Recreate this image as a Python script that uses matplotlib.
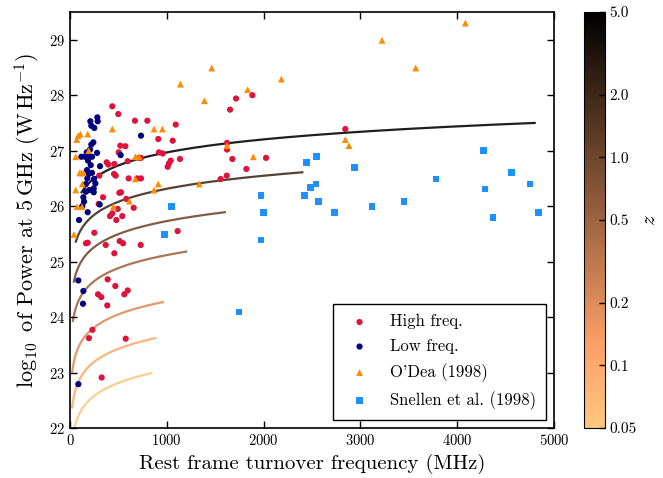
import matplotlib
matplotlib.use("Agg")
import matplotlib.pyplot as plt
import numpy as np
from matplotlib.colors import LogNorm

plt.rcParams['font.family'] = 'serif'
plt.rcParams['font.serif'] = ['cmr10']
plt.rcParams['mathtext.fontset'] = 'cm'
plt.rcParams['axes.formatter.use_mathtext'] = True

# --- data ---
high_x = [437, 499, 671, 799, 1092, 912, 1061, 520, 572, 503, 919, 957, 379, 396, 458,
          596, 713, 733, 1040, 1022, 1009, 1136, 303, 455, 472, 606, 692, 733, 510, 527,
          582, 341, 296, 658, 493, 437, 413, 540, 478, 251, 1112, 1622, 1622, 1677, 1619,
          1556, 1822, 2025, 1653, 1715, 1884, 2844, 165, 183, 369, 513, 548, 730, 458, 389,
          468, 596, 561, 289, 323, 385, 231, 196, 575, 327]
high_y = [27.80, 27.66, 27.54, 27.54, 27.47, 27.21, 27.18, 27.09, 27.08, 26.97, 26.97, 26.95, 26.79, 26.75, 26.76,
          26.81, 26.87, 26.87, 26.82, 26.77, 26.71, 26.85, 26.55, 26.58, 26.55, 26.50, 26.50, 26.50, 26.24, 26.25,
          26.13, 26.16, 26.04, 25.97, 25.95, 25.87, 25.82, 25.82, 25.75, 25.52, 25.55, 27.14, 27.02, 26.85, 26.55,
          26.49, 26.67, 26.87, 27.74, 27.94, 28.00, 27.39, 25.33, 25.34, 25.30, 25.37, 25.33, 25.30, 25.15, 24.68,
          24.56, 24.48, 24.41, 24.41, 24.36, 24.21, 23.77, 23.62, 23.61, 22.91]

low_x = [282, 286, 210, 220, 251, 733, 241, 220, 207, 279, 172, 193, 155, 117, 227,
         523, 186, 214, 310, 176, 193, 227, 179, 248, 262, 165, 245, 245, 165, 199,
         138, 145, 307, 183, 93, 127, 86, 138, 134, 86]
low_y = [27.60, 27.53, 27.53, 27.45, 27.41, 27.27, 27.15, 27.11, 27.02, 26.96, 26.97, 26.89, 26.89, 26.89, 26.89,
         26.92, 26.82, 26.74, 26.72, 26.65, 26.58, 26.60, 26.50, 26.49, 26.41, 26.40, 26.32, 26.25, 26.26, 26.29,
         26.16, 26.08, 26.03, 25.89, 25.75, 26.00, 24.66, 24.47, 24.24, 22.79]

odea_x = [1464, 1140, 2183, 1388, 1835, 437, 868, 954, 107, 183, 69, 83, 193, 59, 675,
          713, 1894, 1622, 100, 117, 138, 675, 912, 127, 868, 1336, 59, 613, 72, 124,
          448, 41, 2844, 2882, 3223, 3571, 4084]
odea_y = [28.49, 28.20, 28.29, 27.90, 28.10, 27.39, 27.39, 27.39, 27.30, 27.30, 27.20, 27.27, 27.00, 26.89, 26.89,
          26.89, 26.89, 27.09, 26.60, 26.60, 26.60, 26.49, 26.40, 26.40, 26.29, 26.40, 26.29, 26.09, 25.99, 25.99,
          25.99, 25.49, 27.20, 27.09, 28.99, 28.49, 29.30]

snellen_x = [1047, 974, 1973, 1997, 2441, 2544, 2483, 2541, 2421, 2565, 2730, 2937,
             1746, 1973, 3120, 3450, 3781, 4270, 4559, 4287, 4752, 4370, 4838]
snellen_y = [25.99, 25.49, 26.19, 25.89, 26.79, 26.89, 26.34, 26.40, 26.19, 26.09, 25.89, 26.70,
             24.09, 25.39, 25.99, 26.09, 26.49, 27.00, 26.60, 26.31, 26.40, 25.79, 25.89]

# detection-limit curves: redshift, log power at the top observed frequency
curve_z = [0.05, 0.1, 0.2, 0.5, 1.0, 2.0, 5.0]
curve_ptop = [22.99, 23.62, 24.27, 25.18, 25.89, 26.61, 27.50]
nu_obs_min, nu_obs_max = 20.0, 800.0   # MHz, observed band
slope = 0.78

fig = plt.figure(figsize=(6.63, 4.78), dpi=100)
ax = fig.add_axes([0.1056, 0.1046, 0.7300, 0.8703])
cax = fig.add_axes([0.881, 0.1046, 0.031, 0.8703])

norm = LogNorm(vmin=0.05, vmax=5.0)
cmap = plt.get_cmap('copper_r')

nu_obs = np.geomspace(nu_obs_min, nu_obs_max, 200)
for z, ptop in zip(curve_z, curve_ptop):
    ax.plot(nu_obs * (1 + z), ptop + slope * np.log10(nu_obs / nu_obs_max),
            color=cmap(norm(z)), lw=1.6, alpha=0.88, zorder=1)

ax.scatter(high_x, high_y, s=20, color='crimson', edgecolors='none', label='High freq.', zorder=3)
ax.scatter(low_x, low_y, s=20, color='navy', edgecolors='none', label='Low freq.', zorder=3)
ax.scatter(odea_x, odea_y, s=24, marker='^', color='darkorange', edgecolors='none',
           label="O'Dea (1998)", zorder=3)
ax.scatter(snellen_x, snellen_y, s=24, marker='s', color='dodgerblue', edgecolors='none',
           label='Snellen et al. (1998)', zorder=3)

ax.set_xlim(0, 5000)
ax.set_ylim(22, 29.5)
ax.set_xticks([0, 1000, 2000, 3000, 4000, 5000])
ax.set_yticks([22, 23, 24, 25, 26, 27, 28, 29])
ax.tick_params(direction='in', top=True, right=True, length=5, width=1, labelsize=10.5)
for sp in ax.spines.values():
    sp.set_linewidth(1.2)

ax.set_xlabel('Rest frame turnover frequency (MHz)', fontsize=15)
ax.set_ylabel(r'$\log_{10}$ of Power at $5\,\mathrm{GHz}$ $(\mathrm{W\,Hz^{-1}})$', fontsize=16)

leg = ax.legend(loc='lower right', scatterpoints=1, fancybox=False, framealpha=1,
                edgecolor='black', fontsize=12, borderpad=0.6, labelspacing=0.55)
leg.get_frame().set_linewidth(1.0)

sm = plt.cm.ScalarMappable(norm=norm, cmap=cmap)
cb = fig.colorbar(sm, cax=cax)
cb.set_ticks([0.05, 0.1, 0.2, 0.5, 1.0, 2.0, 5.0])
cb.set_ticklabels(['0.05', '0.1', '0.2', '0.5', '1.0', '2.0', '5.0'])
cb.ax.minorticks_off()
cb.ax.tick_params(direction='in', length=4, width=1, labelsize=11)
cb.set_label('$z$', fontsize=15, rotation=90, labelpad=3)

fig.savefig('out.png', dpi=100)
